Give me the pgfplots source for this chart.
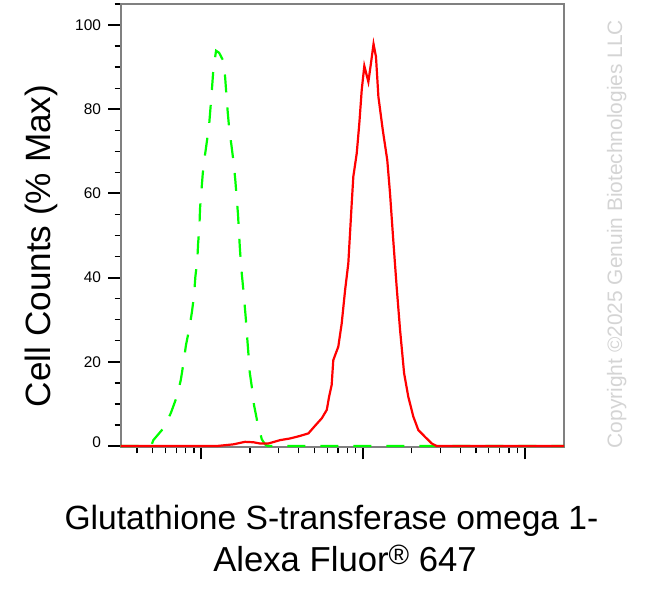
\documentclass[border=0pt]{standalone}
\usepackage{fontspec}
\setmainfont{Liberation Sans}
\usepackage{pgfplots}
\pgfplotsset{compat=1.18}
\definecolor{fgreen}{RGB}{0,255,0}
\definecolor{fred}{RGB}{255,0,0}
\definecolor{copyc}{RGB}{212,212,212}
\begin{document}
\begin{tikzpicture}
\useasboundingbox (0,0) rectangle (653bp,590bp);
\begin{axis}[
  at={(120.5bp,142.7bp)}, anchor=south west,
  scale only axis, width=443.5bp, height=443.3bp,
  xmin=2.5, xmax=5.243, ymin=-0.3, ymax=105,
  separate axis lines,
  axis line style={gray, line width=2bp, line cap=rect},
  tick pos=left, tick align=outside,
  xtick={3,4,5}, xticklabels={},
  minor xtick={2.60206,2.69897,2.77815,2.84510,2.90309,2.95424,
    3.30103,3.47712,3.60206,3.69897,3.77815,3.84510,3.90309,3.95424,
    4.30103,4.47712,4.60206,4.69897,4.77815,4.84510,4.90309,4.95424},
  ytick={0,20,40,60,80,100},
  yticklabels={\raisebox{7bp}{0},20,40,60,80,100},
  minor ytick={5,10,15,25,30,35,45,50,55,65,70,75,85,90,95,105},
  major tick length=12bp, minor tick length=6bp,
  major tick style={black, line width=2bp},
  minor tick style={black, line width=1.3bp},
  yticklabel style={font=\fontsize{15.5}{15.5}\selectfont, anchor=east, xshift=-4bp},
  /pgf/number format/assume math mode=true,
]
\addplot[fgreen, line width=2.2bp, dash pattern=on 18bp off 15bp, mark=none] coordinates {
(2.5,0) (2.690,0) (2.703,1.4) (2.765,4.2) (2.811,7.8) (2.848,11.7) (2.873,15.7)
(2.889,19.6) (2.905,24.0) (2.926,28.0) (2.942,31.9) (2.955,35.9) (2.963,40.2)
(2.975,44.2) (2.980,48.1) (2.988,52.1) (2.992,56.5) (3.000,60.4) (3.009,64.8)
(3.021,68.7) (3.037,73.1) (3.049,76.7) (3.058,81.0) (3.066,85.0) (3.074,89.3)
(3.091,93.9) (3.110,93.4) (3.136,91.5) (3.147,87.7) (3.155,83.4) (3.163,79.4)
(3.173,75.1) (3.186,71.5) (3.200,67.2) (3.210,63.2) (3.219,58.8) (3.227,54.9)
(3.233,50.5) (3.239,46.6) (3.247,42.2) (3.256,38.6) (3.266,34.3) (3.275,30.3)
(3.283,26.0) (3.291,22.0) (3.299,17.6) (3.312,14.1) (3.326,9.7) (3.346,5.8)
(3.374,1.6) (3.394,0.4) (3.41,0) (5.243,0)
};
\addplot[fred, line width=2.2bp, mark=none] coordinates {
(2.5,0) (3.095,0) (3.198,0.4) (3.270,1.0) (3.322,0.9) (3.363,0.6) (3.414,0.6)
(3.487,1.4) (3.549,1.8) (3.610,2.4) (3.662,3.0) (3.703,4.8) (3.745,6.6)
(3.776,8.6) (3.790,11.7) (3.806,14.5) (3.816,20.4) (3.847,23.6) (3.868,29.1)
(3.889,37.0) (3.909,43.4) (3.930,57.6) (3.940,64.0) (3.961,69.5) (3.977,76.6)
(3.992,84.6) (4.008,90.3) (4.033,86.5) (4.049,90.9) (4.065,95.5) (4.080,92.5)
(4.095,83.0) (4.122,75.1) (4.150,67.9) (4.167,60.0) (4.187,48.9) (4.208,37.8)
(4.229,27.6) (4.254,17.3) (4.280,11.7) (4.311,7.0) (4.342,3.8) (4.383,2.2)
(4.425,0.6) (4.456,0) (5.243,0)
};
\end{axis}
\node[rotate=90, anchor=base, inner sep=0pt, font=\fontsize{35.3}{35.3}\selectfont] at (50bp,344bp) {Cell Counts (\% Max)};
\node[anchor=base, inner sep=0pt, font=\fontsize{33.7}{33.7}\selectfont] at (331.5bp,60.7bp) {Glutathione S-transferase omega 1-};
\node[anchor=base, inner sep=0pt, font=\fontsize{34.8}{34.8}\selectfont] at (345bp,18.3bp) {Alexa Fluor\raisebox{7bp}{\fontsize{28}{28}\selectfont ®} 647};
\node[rotate=90, anchor=base, inner sep=0pt, text=copyc, font=\fontsize{21}{21}\selectfont] at (622bp,356bp) {Copyright ©2025 Genuin Biotechnologies LLC};
\end{tikzpicture}
\end{document}
